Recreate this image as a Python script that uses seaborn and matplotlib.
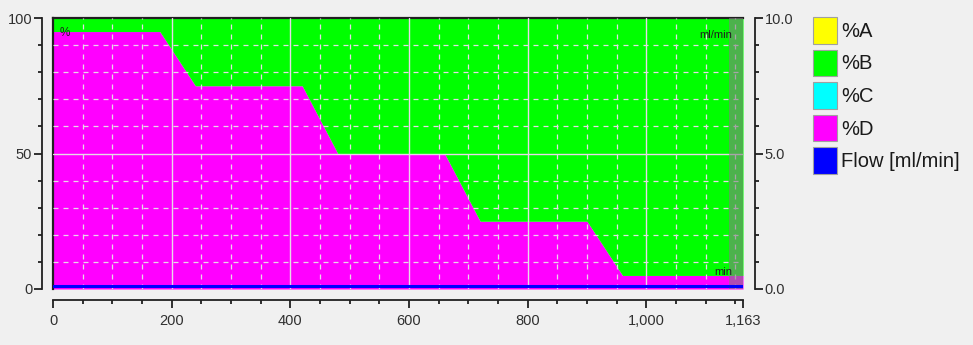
import matplotlib
matplotlib.use("Agg")
import matplotlib.pyplot as plt
from matplotlib.patches import Patch
from matplotlib.ticker import MultipleLocator, FixedLocator, FuncFormatter, NullLocator
import numpy as np
import pandas as pd
import seaborn as sns

# Gradient programme (time in min, composition in %, flow in ml/min)
time_min = [0, 180, 240, 420, 480, 660, 720, 900, 960, 1163]
pct_a = [0, 0, 0, 0, 0, 0, 0, 0, 0, 0]
pct_c = [0, 0, 0, 0, 0, 0, 0, 0, 0, 0]
pct_d = [95, 95, 75, 75, 50, 50, 25, 25, 5, 5]
pct_b = [100 - d for d in pct_d]
flow_ml = [0.1, 0.1, 0.1, 0.1, 0.1, 0.1, 0.1, 0.1, 0.1, 0.1]

x_ticks = [0, 200, 400, 600, 800, 1000, 1163]
legend_labels = ["%A", "%B", "%C", "%D", "Flow [ml/min]"]
legend_colors = ["#ffff00", "#00ff00", "#00ffff", "#ff00ff", "#0000ff"]

df = pd.DataFrame({"t": time_min, "A": pct_a, "B": pct_b, "C": pct_c,
                   "D": pct_d, "flow": flow_ml})

sns.set_style("ticks")
plt.rcParams["font.family"] = ["Liberation Sans", "DejaVu Sans"]

BG = "#f0f0f0"
INK = "#202020"
fig = plt.figure(figsize=(9.73, 3.45), dpi=100, facecolor=BG)
rect = [53 / 973, 1 - 289 / 345, 690 / 973, 271 / 345]
ax = fig.add_axes(rect)
ax.set_facecolor(BG)

# stacked composition: D at the bottom, then A, C, B on top
lower = np.zeros(len(df))
for col, color in [("D", "#ff00ff"), ("A", "#ffff00"), ("C", "#00ffff"), ("B", "#00ff00")]:
    upper = lower + df[col].to_numpy()
    ax.fill_between(df["t"], lower, upper, color=color, linewidth=0, zorder=1)
    lower = upper

ax.set_xlim(0, 1163)
ax.set_ylim(0, 100)

# grid: solid at major, dashed at minor
ax.xaxis.set_major_locator(FixedLocator([200, 400, 600, 800, 1000]))
ax.xaxis.set_minor_locator(FixedLocator(list(range(50, 1163, 50))))
ax.yaxis.set_major_locator(FixedLocator([50]))
ax.yaxis.set_minor_locator(FixedLocator(list(range(10, 100, 10))))
ax.grid(True, which="major", color="#e8d8e8", linewidth=1.0, zorder=2)
ax.grid(True, which="minor", color="#e8d8e8", linewidth=0.9,
        linestyle=(0, (4, 4)), zorder=2)
ax.set_axisbelow(False)
ax.tick_params(which="both", length=0, labelleft=False, labelbottom=False,
               left=False, bottom=False)

# shaded end-of-run band
ax.axvspan(1140, 1163, color="#808080", alpha=0.6, linewidth=0, zorder=3)

# flow trace on the right scale
ax2 = ax.twinx()
ax2.set_ylim(0, 10)
sns.lineplot(data=df, x="t", y="flow", ax=ax2, color="#0000ff", linewidth=2.2,
             legend=False, zorder=4)
ax2.set_xlim(0, 1163)
ax2.set_xlabel("")
ax2.set_ylabel("")
ax2.yaxis.set_major_locator(NullLocator())
ax2.yaxis.set_minor_locator(NullLocator())
ax2.tick_params(which="both", right=False, labelright=False, left=False,
                labelleft=False, bottom=False, labelbottom=False)

for s in ["top", "left"]:
    ax.spines[s].set_visible(True)
    ax.spines[s].set_color(INK)
    ax.spines[s].set_linewidth(1.6)
for s in ["right", "bottom"]:
    ax.spines[s].set_visible(False)
for s in ax2.spines.values():
    s.set_visible(False)


def scale_axes():
    a = fig.add_axes(rect)
    a.patch.set_visible(False)
    for s in a.spines.values():
        s.set_visible(False)
    return a


# detached left and bottom scales
off = 11 * 72 / 100
axl = scale_axes()
axl.set_xlim(0, 1163)
axl.set_ylim(0, 100)
for s in ["left", "bottom"]:
    axl.spines[s].set_visible(True)
    axl.spines[s].set_position(("outward", off))
    axl.spines[s].set_color(INK)
    axl.spines[s].set_linewidth(1.3)
axl.yaxis.set_major_locator(FixedLocator([0, 50, 100]))
axl.yaxis.set_minor_locator(MultipleLocator(10))
axl.xaxis.set_major_locator(FixedLocator(x_ticks))
axl.xaxis.set_minor_locator(MultipleLocator(50))
axl.xaxis.set_major_formatter(FuncFormatter(lambda v, p: f"{int(v):,}"))
axl.tick_params(axis="y", which="major", left=True, length=6, width=1.3,
                color=INK, labelsize=10.5, pad=1, labelcolor="#303030")
axl.tick_params(axis="y", which="minor", left=True, length=3, width=1.3, color=INK)
axl.tick_params(axis="x", which="major", bottom=True, length=6, width=1.3,
                color=INK, labelsize=10.5, pad=4, labelcolor="#303030")
axl.tick_params(axis="x", which="minor", bottom=True, length=3, width=1.3, color=INK)

# detached right scale for flow
axr = scale_axes()
axr.set_ylim(0, 10)
axr.xaxis.set_major_locator(NullLocator())
axr.xaxis.set_minor_locator(NullLocator())
axr.spines["right"].set_visible(True)
axr.spines["right"].set_position(("outward", 12 * 72 / 100))
axr.spines["right"].set_color(INK)
axr.spines["right"].set_linewidth(1.3)
axr.yaxis.tick_right()
axr.yaxis.set_major_locator(FixedLocator([0, 5, 10]))
axr.yaxis.set_minor_locator(MultipleLocator(1))
axr.yaxis.set_major_formatter(FuncFormatter(lambda v, p: f"{v:.1f}"))
axr.tick_params(axis="y", which="major", right=True, left=False, length=6,
                width=1.3, color=INK, labelsize=10.5, pad=1, labelcolor="#303030")
axr.tick_params(axis="y", which="minor", right=True, left=False, length=3,
                width=1.3, color=INK)

# unit captions inside the plot
ax.text(0.01, 0.965, "%", transform=ax.transAxes, fontsize=8.5, color=INK,
        ha="left", va="top", zorder=5)
ax.text(0.985, 0.955, "ml/min", transform=ax.transAxes, fontsize=8,
        color=INK, ha="right", va="top", zorder=5)
ax.text(0.985, 0.045, "min", transform=ax.transAxes, fontsize=8,
        color=INK, ha="right", va="bottom", zorder=5)

handles = [Patch(facecolor=c, edgecolor="#a0a0a0", linewidth=0.8)
           for c in legend_colors]
fig.legend(handles, legend_labels, loc="upper left",
           bbox_to_anchor=(805 / 973, 1 - 9 / 345), frameon=False,
           fontsize=14.5, handlelength=1.2, handleheight=1.65,
           handletextpad=0.2, labelspacing=0.3, borderaxespad=0,
           labelcolor="#1a1a1a")

fig.savefig("out.png", dpi=100, facecolor=fig.get_facecolor())
